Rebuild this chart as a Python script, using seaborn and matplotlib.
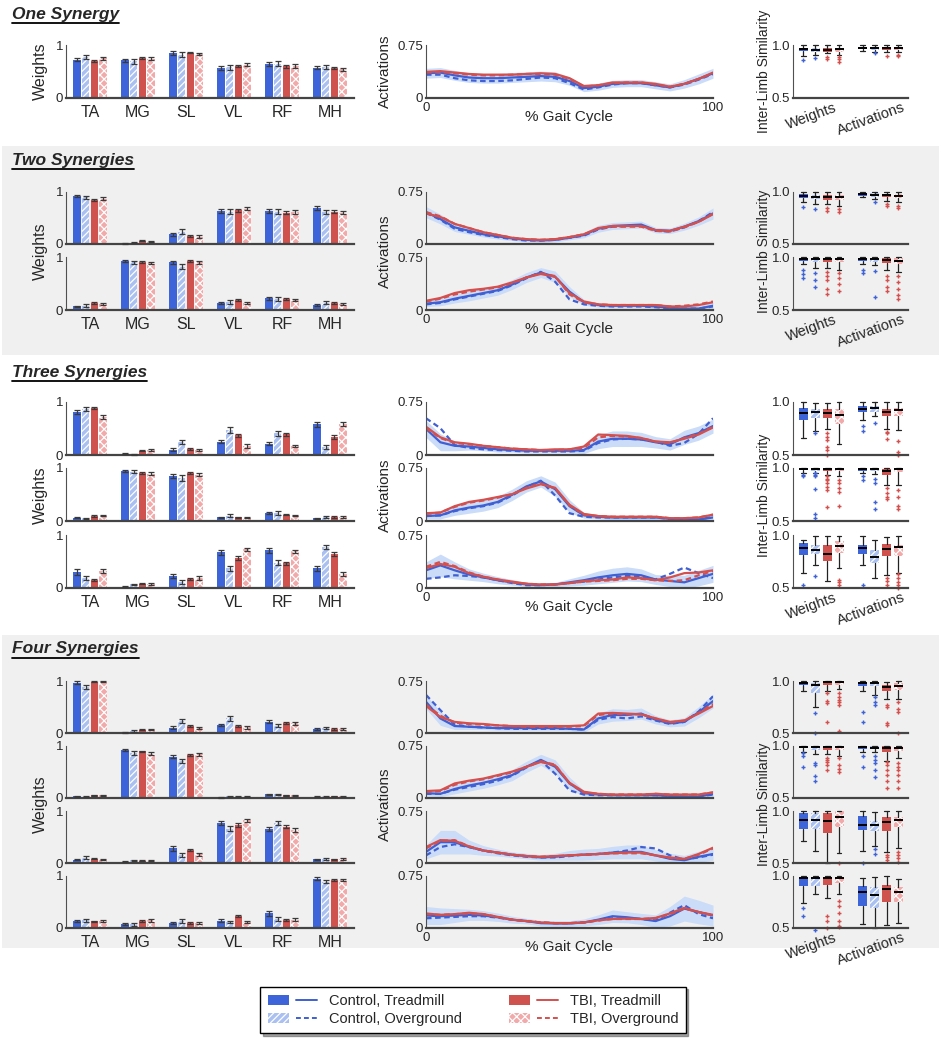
import numpy as np
import pandas as pd
import matplotlib
matplotlib.use("Agg")
import matplotlib.pyplot as plt
from matplotlib.patches import Patch, Rectangle
from matplotlib.lines import Line2D
from matplotlib.legend_handler import HandlerTuple
from matplotlib.transforms import ScaledTranslation
import seaborn as sns

sns.set_style("white")
plt.rcParams["font.family"] = ["Liberation Sans", "DejaVu Sans"]
plt.rcParams["hatch.linewidth"] = 0.9

W, H = 941, 1050

MUSCLES = ["TA", "MG", "SL", "VL", "RF", "MH"]
GROUPS = ["Control, Treadmill", "Control, Overground", "TBI, Treadmill", "TBI, Overground"]
GAIT = list(range(0, 101, 5))
SIM_LABELS = ["Weights", "Activations"]

# ---------------- muscle weights (mean, sem) : rows = muscles, cols = groups
w_one_1 = [[.72, .78, .70, .75], [.71, .69, .75, .74], [.85, .82, .85, .83], [.57, .58, .60, .63], [.64, .65, .60, .60], [.57, .58, .56, .54]]
e_one_1 = [[.03, .04, .02, .03], [.03, .05, .02, .03], [.03, .04, .01, .02], [.04, .05, .02, .03], [.04, .04, .03, .04], [.03, .04, .02, .03]]

w_two_1 = [[.92, .90, .85, .87], [.01, .02, .06, .04], [.19, .24, .16, .14], [.63, .62, .65, .68], [.64, .62, .60, .62], [.69, .61, .62, .60]]
e_two_1 = [[.02, .03, .02, .03], [.01, .01, .01, .01], [.03, .05, .02, .03], [.04, .05, .03, .03], [.04, .05, .03, .04], [.04, .04, .03, .03]]
w_two_2 = [[.07, .08, .14, .12], [.92, .90, .90, .89], [.90, .82, .92, .90], [.14, .15, .19, .14], [.22, .21, .21, .19], [.10, .14, .14, .12]]
e_two_2 = [[.01, .03, .02, .02], [.02, .03, .02, .02], [.03, .05, .02, .03], [.02, .04, .02, .02], [.03, .04, .02, .02], [.02, .03, .02, .02]]

w_three_1 = [[.81, .87, .89, .72], [.02, .015, .08, .09], [.10, .25, .12, .09], [.25, .47, .37, .17], [.21, .41, .39, .17], [.58, .15, .34, .58]]
e_three_1 = [[.04, .04, .02, .04], [.01, .01, .01, .02], [.03, .04, .02, .02], [.03, .05, .03, .03], [.03, .05, .03, .02], [.05, .03, .03, .04]]
w_three_2 = [[.06, .05, .10, .10], [.95, .93, .90, .89], [.85, .81, .90, .87], [.07, .10, .07, .06], [.15, .15, .12, .10], [.05, .07, .07, .08]]
e_three_2 = [[.01, .01, .02, .01], [.02, .03, .02, .03], [.03, .05, .02, .03], [.01, .03, .01, .01], [.02, .04, .01, .01], [.01, .02, .02, .02]]
w_three_3 = [[.30, .19, .15, .32], [.02, .07, .08, .08], [.22, .11, .17, .19], [.67, .37, .56, .73], [.71, .48, .47, .69], [.37, .78, .64, .26]]
e_three_3 = [[.05, .04, .02, .04], [.01, .01, .01, .02], [.04, .04, .02, .03], [.04, .05, .04, .03], [.05, .05, .03, .03], [.05, .04, .03, .04]]

w_four_1 = [[.97, .89, .99, .99], [.01, .04, .06, .06], [.10, .23, .13, .10], [.15, .28, .14, .11], [.22, .14, .19, .19], [.08, .09, .08, .08]]
e_four_1 = [[.03, .04, .01, .01], [.01, .02, .01, .01], [.03, .04, .02, .02], [.02, .05, .02, .03], [.03, .03, .02, .03], [.02, .02, .02, .02]]
w_four_2 = [[.03, .02, .05, .05], [.92, .87, .90, .85], [.79, .71, .82, .84], [.01, .03, .02, .02], [.07, .07, .05, .05], [.02, .03, .03, .03]]
e_four_2 = [[.01, .01, .01, .01], [.02, .04, .01, .03], [.03, .04, .02, .03], [.01, .01, .01, .01], [.01, .01, .01, .01], [.01, .01, .01, .01]]
w_four_3 = [[.06, .10, .08, .07], [.02, .05, .04, .04], [.28, .15, .25, .17], [.77, .66, .73, .82], [.65, .77, .70, .64], [.07, .08, .07, .08]]
e_four_3 = [[.01, .03, .01, .01], [.01, .01, .01, .01], [.04, .04, .02, .03], [.03, .05, .03, .03], [.04, .04, .03, .04], [.01, .02, .01, .02]]
w_four_4 = [[.14, .15, .13, .14], [.07, .07, .13, .15], [.09, .13, .10, .09], [.14, .11, .23, .11], [.28, .17, .16, .16], [.95, .89, .93, .93]]
e_four_4 = [[.02, .03, .01, .02], [.02, .03, .02, .03], [.02, .04, .02, .02], [.03, .02, .02, .02], [.04, .04, .02, .03], [.03, .03, .02, .02]]

# ---------------- activations over gait cycle: [CT, CO, TT, TO], plus control treadmill SD band
a_one_1 = [[.35, .36, .32, .29, .28, .28, .29, .30, .31, .30, .24, .14, .16, .20, .21, .21, .18, .15, .20, .27, .35],
           [.33, .33, .28, .25, .24, .24, .25, .27, .29, .28, .21, .12, .15, .19, .21, .21, .18, .15, .19, .26, .34],
           [.37, .38, .36, .34, .33, .33, .33, .34, .35, .34, .28, .17, .18, .22, .22, .22, .20, .16, .20, .27, .36],
           [.36, .37, .35, .33, .32, .32, .33, .34, .34, .33, .27, .16, .18, .21, .22, .22, .19, .16, .20, .27, .35]]
sd_one_1 = [.07, .07, .07, .07, .07, .07, .07, .07, .07, .07, .06, .05, .05, .05, .05, .05, .05, .05, .06, .07, .07]

a_two_1 = [[.46, .36, .24, .19, .14, .11, .08, .06, .05, .06, .09, .13, .22, .26, .27, .28, .20, .19, .25, .33, .44],
           [.45, .35, .22, .17, .13, .10, .07, .05, .05, .06, .09, .12, .21, .25, .26, .27, .19, .18, .24, .33, .46],
           [.44, .39, .29, .23, .17, .13, .09, .07, .06, .07, .10, .14, .23, .26, .26, .26, .20, .19, .25, .32, .43],
           [.46, .40, .29, .23, .17, .13, .09, .07, .06, .07, .10, .14, .22, .25, .25, .25, .19, .18, .24, .32, .44]]
sd_two_1 = [.08, .07, .06, .05, .04, .04, .03, .03, .03, .03, .03, .04, .05, .05, .05, .05, .04, .04, .05, .06, .08]
a_two_2 = [[.09, .11, .16, .20, .24, .28, .36, .46, .53, .47, .26, .11, .07, .06, .06, .06, .05, .03, .02, .02, .06],
           [.08, .10, .15, .19, .23, .27, .35, .45, .54, .40, .15, .08, .06, .05, .05, .05, .04, .02, .02, .02, .05],
           [.13, .17, .24, .28, .30, .33, .39, .46, .51, .47, .24, .12, .08, .07, .07, .07, .07, .05, .05, .07, .11],
           [.12, .16, .22, .26, .29, .32, .38, .46, .52, .48, .22, .11, .08, .07, .07, .07, .07, .05, .06, .08, .12]]
sd_two_2 = [.04, .05, .06, .07, .07, .07, .07, .07, .07, .08, .07, .04, .03, .03, .03, .03, .03, .03, .03, .04, .05]

a_three_1 = [[.37, .18, .13, .12, .10, .08, .07, .06, .06, .06, .06, .07, .19, .23, .23, .22, .18, .15, .25, .31, .41],
             [.52, .38, .14, .10, .08, .07, .06, .05, .05, .05, .05, .06, .17, .22, .23, .22, .19, .13, .17, .30, .52],
             [.40, .25, .18, .16, .13, .11, .09, .08, .07, .08, .08, .12, .29, .28, .27, .24, .19, .18, .23, .29, .39],
             [.38, .24, .17, .15, .13, .11, .09, .08, .07, .07, .08, .10, .25, .27, .26, .24, .19, .17, .24, .30, .40]]
sd_three_1 = [.12, .12, .07, .05, .04, .04, .03, .03, .03, .03, .03, .05, .10, .11, .11, .10, .08, .08, .10, .10, .10]
a_three_2 = [[.07, .08, .15, .19, .22, .27, .37, .49, .56, .45, .21, .08, .06, .05, .05, .05, .05, .03, .02, .02, .05],
             [.07, .08, .14, .18, .21, .26, .36, .48, .57, .36, .11, .06, .05, .05, .05, .05, .05, .03, .02, .02, .06],
             [.11, .12, .21, .27, .30, .34, .38, .46, .52, .47, .23, .10, .07, .06, .06, .06, .06, .04, .04, .05, .09],
             [.10, .12, .20, .26, .29, .33, .38, .47, .53, .46, .22, .09, .07, .06, .06, .06, .06, .04, .04, .05, .09]]
sd_three_2 = [.04, .05, .07, .08, .08, .08, .08, .08, .08, .10, .09, .04, .03, .03, .03, .03, .03, .03, .03, .04, .05]
a_three_3 = [[.25, .32, .25, .19, .15, .11, .08, .05, .04, .05, .08, .11, .15, .18, .20, .18, .12, .10, .08, .14, .20],
             [.13, .15, .18, .17, .15, .11, .07, .04, .04, .05, .07, .09, .12, .15, .17, .16, .12, .20, .29, .21, .14],
             [.28, .34, .30, .21, .16, .12, .09, .06, .05, .05, .07, .10, .11, .12, .15, .14, .11, .15, .21, .22, .25],
             [.30, .37, .31, .22, .16, .12, .08, .06, .05, .05, .07, .09, .10, .11, .13, .13, .11, .10, .11, .18, .24]]
sd_three_3 = [.12, .16, .12, .08, .06, .05, .04, .03, .03, .03, .05, .07, .09, .10, .10, .09, .07, .08, .10, .11, .12]

a_four_1 = [[.45, .21, .10, .09, .08, .07, .07, .07, .07, .07, .06, .05, .21, .26, .26, .28, .19, .14, .16, .30, .46],
            [.55, .33, .12, .09, .08, .07, .06, .06, .06, .06, .06, .05, .19, .23, .21, .24, .18, .13, .16, .31, .53],
            [.39, .23, .16, .14, .13, .11, .10, .10, .10, .10, .10, .11, .28, .29, .28, .27, .21, .16, .18, .28, .39],
            [.41, .25, .15, .13, .12, .11, .10, .09, .09, .09, .09, .10, .26, .28, .27, .27, .21, .15, .18, .29, .42]]
sd_four_1 = [.10, .10, .05, .04, .03, .03, .03, .03, .03, .03, .03, .04, .08, .09, .08, .08, .06, .05, .06, .08, .10]
a_four_2 = [[.07, .06, .13, .18, .22, .27, .33, .45, .55, .45, .21, .07, .05, .04, .04, .04, .04, .03, .02, .02, .06],
            [.06, .06, .12, .16, .20, .25, .32, .44, .54, .35, .11, .05, .04, .04, .04, .04, .04, .03, .02, .02, .05],
            [.10, .11, .21, .25, .28, .33, .38, .45, .52, .47, .22, .09, .06, .05, .05, .05, .06, .05, .05, .05, .08],
            [.09, .10, .19, .24, .27, .32, .37, .45, .53, .48, .21, .08, .06, .05, .05, .05, .06, .05, .05, .05, .08]]
sd_four_2 = [.04, .04, .07, .08, .08, .08, .08, .08, .08, .10, .09, .04, .03, .03, .03, .03, .03, .03, .03, .03, .05]
a_four_3 = [[.16, .30, .30, .23, .18, .15, .12, .10, .08, .09, .11, .12, .13, .15, .16, .16, .11, .06, .04, .09, .13],
            [.11, .23, .27, .23, .18, .14, .11, .09, .08, .08, .10, .12, .13, .15, .18, .23, .21, .11, .05, .08, .12],
            [.23, .33, .32, .24, .18, .15, .12, .10, .09, .10, .11, .12, .13, .14, .15, .15, .11, .08, .06, .13, .22],
            [.21, .32, .33, .24, .18, .15, .12, .10, .09, .10, .11, .12, .13, .14, .14, .14, .11, .07, .06, .12, .21]]
sd_four_3 = [.10, .17, .17, .10, .07, .05, .04, .04, .04, .05, .07, .08, .08, .09, .10, .10, .08, .08, .07, .08, .09]
a_four_4 = [[.18, .17, .18, .19, .18, .155, .12, .10, .07, .065, .065, .08, .12, .17, .155, .13, .10, .17, .28, .23, .18],
            [.14, .15, .16, .17, .17, .15, .12, .10, .08, .07, .07, .08, .11, .14, .14, .13, .11, .22, .33, .20, .14],
            [.21, .19, .20, .22, .20, .16, .12, .10, .08, .07, .07, .08, .11, .13, .135, .13, .145, .21, .29, .23, .19],
            [.20, .19, .20, .21, .20, .16, .12, .10, .08, .07, .07, .08, .11, .13, .13, .13, .14, .20, .28, .23, .18]]
sd_four_4 = [.13, .12, .10, .08, .07, .06, .05, .04, .04, .04, .04, .05, .07, .09, .08, .08, .09, .14, .18, .17, .15]

# ---------------- inter-limb similarity: box stats (low whisker, q1, median, q3, high whisker) + outliers
# order: Weights CT, CO, TT, TO, Activations CT, CO, TT, TO
s_one_1 = [(.90, .94, .96, .975, 1.0), (.91, .935, .955, .975, 1.0), (.92, .93, .955, .97, 1.0), (.91, .935, .96, .975, 1.0),
           (.94, .96, .975, .985, 1.0), (.935, .955, .97, .985, 1.0), (.93, .955, .97, .985, 1.0), (.93, .955, .97, .985, 1.0)]
f_one_1 = [[.86], [.88], [.89, .87], [.89, .87, .84], [], [.925], [.90], [.91, .90]]

s_two_1 = [(.90, .94, .96, .98, 1.0), (.88, .93, .955, .975, 1.0), (.88, .92, .95, .975, 1.0), (.87, .92, .95, .975, 1.0),
           (.95, .965, .98, .99, 1.0), (.93, .955, .975, .99, 1.0), (.91, .95, .97, .985, 1.0), (.90, .94, .965, .985, 1.0)]
f_two_1 = [[.86], [.84], [.85, .82], [.84, .81], [], [.90], [.88, .87], [.87, .85]]
s_two_2 = [(.93, .965, .985, .995, 1.0), (.90, .955, .98, .995, 1.0), (.90, .95, .98, .995, 1.0), (.88, .95, .98, .995, 1.0),
           (.93, .965, .985, .995, 1.0), (.92, .955, .98, .995, 1.0), (.88, .94, .97, .99, 1.0), (.86, .93, .965, .99, 1.0)]
f_two_2 = [[.88, .84, .80], [.85, .78, .72], [.86, .82, .78, .70, .65], [.85, .80, .75, .68],
           [.88, .85], [.87, .62], [.82, .78, .72, .68], [.82, .76, .70, .64, .60]]

s_three_1 = [(.665, .826, .896, .943, 1.0), (.73, .848, .902, .934, .99), (.744, .85, .90, .937, .99), (.60, .794, .88, .937, 1.0),
             (.83, .902, .934, .959, 1.0), (.864, .91, .943, .96, 1.0), (.75, .87, .91, .937, 1.0), (.737, .864, .927, .943, 1.0)]
f_three_1 = [[], [.71], [.705, .67, .64, .58, .55, .50], [], [.77, .73], [.80], [.72, .705, .65], [.63, .53, .50]]
s_three_2 = [(.95, .978, .993, 1.0, 1.0), (.955, .975, .992, 1.0, 1.0), (.935, .97, .993, 1.0, 1.0), (.92, .972, .993, 1.0, 1.0),
             (.95, .975, .99, 1.0, 1.0), (.94, .972, .99, .997, 1.0), (.84, .935, .974, .99, 1.0), (.84, .965, .99, 1.0, 1.0)]
f_three_2 = [[.935, .92], [.95, .935, .92, .806, .565, .53], [.92, .90, .89, .855, .82, .79, .63], [.89, .855, .81, .77, .645],
             [.92, .89], [.90, .855, .68, .61], [.81, .76, .73, .71], [.79, .73, .645, .61]]
s_three_3 = [(.64, .81, .873, .927, .95), (.72, .823, .854, .905, .99), (.57, .753, .823, .91, .99), (.684, .832, .896, .943, .99),
             (.715, .823, .873, .905, .99), (.59, .737, .795, .854, .95), (.627, .80, .87, .918, .98), (.64, .80, .89, .91, .99)]
f_three_3 = [[.53], [.61], [], [.58, .56, .53], [.53], [], [.595, .563, .53], [.63, .59, .56, .53, .50]]

s_four_1 = [(.90, .96, .985, .995, 1.0), (.75, .886, .96, .98, 1.0), (.90, .96, .99, .995, 1.0), (.92, .96, .99, .995, 1.0),
            (.90, .955, .985, .995, 1.0), (.87, .955, .985, .995, 1.0), (.824, .903, .94, .966, .995), (.824, .914, .955, .98, 1.0)]
f_four_1 = [[], [.69, .50], [.886, .807, .79, .61], [.886, .85, .82, .80, .766, .52],
            [.70, .61], [.85, .80, .766], [.766, .75, .595, .58], [.80, .73, .70, .50]]
s_four_2 = [(.94, .98, .995, 1.0, 1.0), (.92, .965, .99, 1.0, 1.0), (.92, .965, .995, 1.0, 1.0), (.90, .965, .995, 1.0, 1.0),
            (.94, .972, .99, 1.0, 1.0), (.94, .97, .985, 1.0, 1.0), (.86, .94, .98, 1.0, 1.0), (.88, .955, .985, 1.0, 1.0)]
f_four_2 = [[.93, .90, .80], [.84, .82, .71, .66], [.886, .87, .85, .82, .77], [.886, .82, .78, .75],
            [.90, .80], [.90, .87, .84, .77, .70], [.85, .82, .77, .72, .66, .60], [.84, .80, .77, .72, .66, .60]]
s_four_3 = [(.71, .83, .914, .983, 1.0), (.62, .83, .914, .983, 1.0), (.50, .784, .904, .983, 1.0), (.596, .846, .945, 1.0, 1.0),
            (.62, .82, .87, .955, 1.0), (.664, .81, .863, .904, .99), (.61, .81, .897, .94, 1.0), (.647, .846, .91, .945, 1.0)]
f_four_3 = [[], [], [], [.50], [.50], [.63, .59], [.58, .56, .53], [.61, .58, .55, .51]]
s_four_4 = [(.74, .90, .983, .993, 1.0), (.83, .90, .983, .993, 1.0), (.79, .914, .983, .993, 1.0), (.83, .93, .983, .993, 1.0),
            (.534, .707, .845, .907, .983), (.50, .69, .817, .897, .99), (.53, .748, .872, .914, 1.0), (.55, .752, .845, .897, .97)]
f_four_4 = [[.69, .62], [.48], [.62, .57, .50], [.76, .71, .64, .57, .52, .51], [], [], [], []]

SECTIONS = [
    ("One Synergy", 14, [(45, 98)],
     [(w_one_1, e_one_1, a_one_1, sd_one_1, s_one_1, f_one_1)], False),
    ("Two Synergies", 160, [(192, 244), (257, 310)],
     [(w_two_1, e_two_1, a_two_1, sd_two_1, s_two_1, f_two_1),
      (w_two_2, e_two_2, a_two_2, sd_two_2, s_two_2, f_two_2)], True),
    ("Three Synergies", 372, [(402, 455), (468, 521), (535, 588)],
     [(w_three_1, e_three_1, a_three_1, sd_three_1, s_three_1, f_three_1),
      (w_three_2, e_three_2, a_three_2, sd_three_2, s_three_2, f_three_2),
      (w_three_3, e_three_3, a_three_3, sd_three_3, s_three_3, f_three_3)], False),
    ("Four Synergies", 649, [(681, 733), (746, 798), (811, 863), (876, 928)],
     [(w_four_1, e_four_1, a_four_1, sd_four_1, s_four_1, f_four_1),
      (w_four_2, e_four_2, a_four_2, sd_four_2, s_four_2, f_four_2),
      (w_four_3, e_four_3, a_four_3, sd_four_3, s_four_3, f_four_3),
      (w_four_4, e_four_4, a_four_4, sd_four_4, s_four_4, f_four_4)], True),
]
GRAY_BANDS = {"Two Synergies": (146, 355), "Four Synergies": (635, 948)}

BAR_COLORS = ["#3d64d8", "#a9c0f0", "#d0524f", "#f2a9a9"]
LINE_COLORS = ["#3f5fd2", "#3f5fd2", "#d4504e", "#d4504e"]
DASHES = ["", (2.5, 1.6), "", (2.5, 1.6)]
FLIER_COLORS = ["#3f63d6", "#3f63d6", "#d4504e", "#d4504e"]
HATCHES = [None, "/////", None, "xxxx"]
BAND = "#cadcf8"
AXC = "#505050"

fig = plt.figure(figsize=(W / 100, H / 100), dpi=100)
fig.patch.set_facecolor("white")


def px_axes(left, right, top, bottom):
    return fig.add_axes([left / W, 1 - bottom / H, (right - left) / W, (bottom - top) / H])


def style_axes(ax):
    ax.set_facecolor("none")
    sns.despine(ax=ax)
    ax.spines["left"].set_color(AXC)
    ax.spines["left"].set_linewidth(0.8)
    ax.spines["bottom"].set_color("#444444")
    ax.spines["bottom"].set_linewidth(1.6)
    ax.tick_params(direction="in", length=3, width=0.8, color=AXC, labelsize=9.5, pad=2)
    ax.set_xlabel("")
    ax.set_ylabel("")


def draw_bars(ax, means, errs, last):
    df = pd.DataFrame([(m, g, means[i][j]) for i, m in enumerate(MUSCLES) for j, g in enumerate(GROUPS)],
                      columns=["muscle", "group", "weight"])
    sns.barplot(data=df, x="muscle", y="weight", hue="group", order=MUSCLES, hue_order=GROUPS,
                palette=BAR_COLORS, saturation=1, errorbar=None, width=0.72, gap=0.16,
                legend=False, ax=ax)
    bars = sorted(ax.patches, key=lambda p: p.get_x())
    flat_err = [e for row in errs for e in row]
    for k, p in enumerate(bars):
        p.set_linewidth(0)
        if HATCHES[k % 4]:
            p.set_edgecolor("white")
            p.set_hatch(HATCHES[k % 4])
        ax.errorbar(p.get_x() + p.get_width() / 2, p.get_height(), yerr=flat_err[k], fmt="none",
                    ecolor="#3a3a3a", elinewidth=0.9, capsize=2.2, capthick=0.9, clip_on=False, zorder=5)
    ax.set_xlim(-0.5, 5.5)
    ax.set_ylim(0, 1)
    style_axes(ax)
    ax.set_yticks(np.arange(0, 1.01, 0.2))
    ax.set_yticklabels(["0", "", "", "", "", "1"])
    ax.tick_params(axis="x", length=0, labelsize=11.5, pad=5, labelbottom=last)


def draw_lines(ax, curves, sd, last):
    ct = np.array(curves[0])
    band = np.array(sd)
    ax.fill_between(GAIT, np.clip(ct - band, 0, None), ct + band, color=BAND, lw=0, zorder=0)
    df = pd.DataFrame([(x, g, curves[j][i]) for j, g in enumerate(GROUPS) for i, x in enumerate(GAIT)],
                      columns=["gait", "group", "act"])
    sns.lineplot(data=df, x="gait", y="act", hue="group", style="group", hue_order=GROUPS,
                 style_order=GROUPS, palette=LINE_COLORS, dashes=DASHES, linewidth=1.6,
                 legend=False, ax=ax)
    ax.set_xlim(0, 100)
    ax.set_ylim(0, 0.75)
    style_axes(ax)
    ax.set_yticks([0, 0.25, 0.5, 0.75])
    ax.set_yticklabels(["0", "", "", "0.75"])
    ax.set_xticks([0, 50, 100])
    ax.set_xticklabels(["0", "", "100"])
    ax.tick_params(axis="x", labelbottom=last, pad=3)


def draw_boxes(ax, stats, fliers, last):
    items = [dict(whislo=s[0], q1=s[1], med=s[2], q3=s[3], whishi=s[4], fliers=fliers[i])
             for i, s in enumerate(stats)]
    offsets = [-0.3, -0.1, 0.1, 0.3]
    pos = [g + o for g in (1, 2) for o in offsets]
    art = ax.bxp(items, positions=pos, widths=0.15, capwidths=0.08, patch_artist=True,
                 manage_ticks=False,
                 medianprops=dict(color="black", linewidth=1.4),
                 whiskerprops=dict(color="#222222", linewidth=0.9),
                 capprops=dict(color="#222222", linewidth=0.9))
    for i, box in enumerate(art["boxes"]):
        k = i % 4
        box.set_facecolor(BAR_COLORS[k])
        box.set_linewidth(0)
        if HATCHES[k]:
            box.set_edgecolor("white")
            box.set_hatch(HATCHES[k])
        art["fliers"][i].set(marker="+", markersize=3.5, markeredgewidth=1.0,
                             markeredgecolor=FLIER_COLORS[k], linestyle="none")
    for c in art["caps"] + art["whiskers"] + art["fliers"]:
        c.set_clip_on(False)
    ax.set_xlim(0.525, 2.46)
    ax.set_ylim(0.5, 1.0)
    style_axes(ax)
    ax.set_yticks(np.arange(0.5, 1.01, 0.1))
    ax.set_yticklabels(["0.5", "", "", "", "", "1.0"])
    ax.set_xticks([1, 2])
    ax.set_xticklabels(SIM_LABELS)
    ax.tick_params(axis="x", labelbottom=last, labelsize=10.5, pad=2)
    if last:
        for lab in ax.get_xticklabels():
            lab.set_rotation(20)
            lab.set_ha("center")
            lab.set_transform(lab.get_transform() + ScaledTranslation(-0.1, 0, fig.dpi_scale_trans))


titles = []
for title, ty, rows, data, gray in SECTIONS:
    if gray:
        y0, y1 = GRAY_BANDS[title]
        fig.patches.append(Rectangle((2 / W, 1 - y1 / H), 937 / W, (y1 - y0) / H,
                                     transform=fig.transFigure, facecolor="#f0f0f0",
                                     edgecolor="none", zorder=-10))
    t = fig.text(12 / W, 1 - ty / H, title, fontsize=12.5, fontweight="bold", fontstyle="italic",
                 va="center", ha="left")
    titles.append(t)
    n = len(rows)
    for r, ((top, bot), (wm, we, act, sd, st, fl)) in enumerate(zip(rows, data)):
        last = r == n - 1
        draw_bars(px_axes(66, 354, top, bot), wm, we, last)
        draw_lines(px_axes(426, 713, top, bot), act, sd, last)
        draw_boxes(px_axes(793, 908, top, bot), st, fl, last)
    mid = (rows[0][0] + rows[-1][1]) / 2
    bottom = rows[-1][1]
    fig.text(40 / W, 1 - mid / H, "Weights", rotation=90, fontsize=11.5, ha="center", va="center")
    fig.text(385 / W, 1 - mid / H, "Activations", rotation=90, fontsize=11, ha="center", va="center")
    fig.text(764 / W, 1 - mid / H, "Inter-Limb Similarity", rotation=90, fontsize=10,
             ha="center", va="center")
    fig.text(569 / W, 1 - (bottom + 19) / H, "% Gait Cycle", fontsize=11, ha="center", va="center")

# legend
handles = []
for k, g in enumerate(GROUPS):
    patch = Patch(facecolor=BAR_COLORS[k], edgecolor="white" if HATCHES[k] else BAR_COLORS[k],
                  hatch=HATCHES[k], linewidth=0)
    line = Line2D([], [], color=LINE_COLORS[k], linewidth=1.4,
                  linestyle="-" if k % 2 == 0 else (0, (2.5, 1.6)))
    handles.append((patch, line))
fig.legend(handles, GROUPS, ncol=2, loc="center", bbox_to_anchor=(473 / W, 1 - 1010 / H),
           bbox_transform=fig.transFigure, fontsize=10.5, frameon=True, fancybox=False, shadow=True,
           edgecolor="black", handler_map={tuple: HandlerTuple(ndivide=None, pad=0.5)},
           handlelength=3.4, columnspacing=3.2, handletextpad=0.8, borderpad=0.5, labelspacing=0.3)

# underline section titles
fig.canvas.draw()
renderer = fig.canvas.get_renderer()
for t in titles:
    bb = t.get_window_extent(renderer)
    y = bb.y0 - 1
    fig.lines.append(Line2D([bb.x0 / W, bb.x1 / W], [y / H, y / H], transform=fig.transFigure,
                            color="black", linewidth=1.3))

fig.savefig("out.png", dpi=100)
